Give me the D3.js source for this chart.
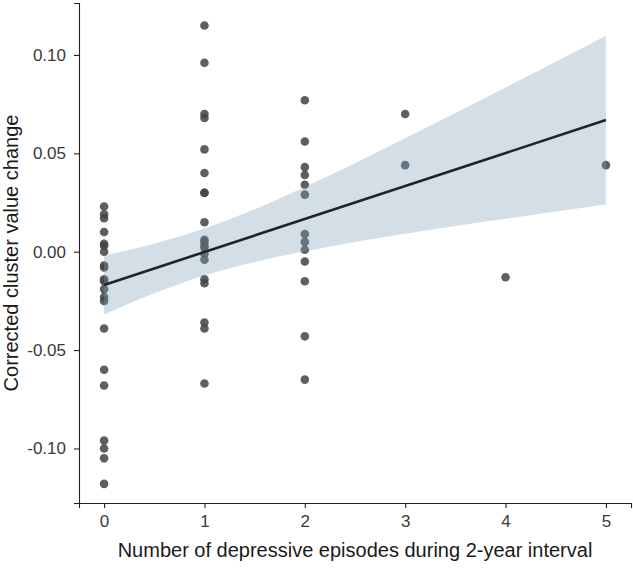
<!DOCTYPE html>
<html>
<head>
<meta charset="utf-8">
<script src="https://cdn.jsdelivr.net/npm/d3@7"></script>
<style>
  body { margin: 0; background: #fff; }
  text { font-family: "Liberation Sans", Arial, sans-serif; }
</style>
</head>
<body>
<div id="chart"></div>
<script>
// corrected cluster value change, grouped by number of episodes
var changeEp0 = [0.023, 0.019, 0.017, 0.010, 0.004, 0.003, 0.000, -0.007, -0.008, -0.014,
    -0.015, -0.019, -0.023, -0.025, -0.039, -0.060, -0.068, -0.096, -0.100, -0.105, -0.118];
var changeEp1 = [0.115, 0.096, 0.070, 0.068, 0.052, 0.040, 0.030, 0.030, 0.015, 0.006,
    0.005, 0.003, 0.002, -0.001, -0.004, -0.014, -0.016, -0.036, -0.039, -0.067];
var changeEp2 = [0.077, 0.056, 0.043, 0.039, 0.034, 0.029, 0.009, 0.005, 0.001, -0.005,
    -0.015, -0.043, -0.065];
var changeEp3 = [0.070, 0.044];
var changeEp4 = [-0.013];
var changeEp5 = [0.044];

// linear fit and its 95% band
var bandX     = [0, 0.5, 1, 1.5, 2, 2.5, 3, 3.5, 4, 4.5, 5];
var bandLower = [-0.0319, -0.0211, -0.0121, -0.0052, 0.0003, 0.0050, 0.0091, 0.0131, 0.0167, 0.0204, 0.0240];
var bandUpper = [-0.0019, 0.0041, 0.0119, 0.0216, 0.0329, 0.0450, 0.0577, 0.0705, 0.0835, 0.0966, 0.1098];
var fitX = [0, 5];
var fitY = [-0.0169, 0.0669];

var xTicks = [0, 1, 2, 3, 4, 5];
var yTicks = [-0.10, -0.05, 0.00, 0.05, 0.10];

var svgWidth = 633, svgHeight = 568;
var margin = {top: 3, right: 2, bottom: 65, left: 79};
var width = svgWidth - margin.left - margin.right;
var height = svgHeight - margin.top - margin.bottom;

var svg = d3.select('#chart').append('svg')
    .attr('width', svgWidth).attr('height', svgHeight);

var g = svg.append('g')
    .attr('transform', 'translate(' + margin.left + ' ' + margin.top + ')');

var x = d3.scaleLinear().domain([-0.25, 5.25]).range([0, width]);
var y = d3.scaleLinear().domain([-0.1277, 0.1264]).range([height, 0]);

// flatten groups into points
var groups = [changeEp0, changeEp1, changeEp2, changeEp3, changeEp4, changeEp5];
var points = [];
groups.forEach(function(vals, i) {
    vals.forEach(function(v) { points.push({ep: i, change: v}); });
});

// points first, band is drawn over them
g.selectAll('circle.pt')
    .data(points)
    .enter().append('circle')
    .attr('class', 'pt')
    .attr('cx', function(d) { return x(d.ep); })
    .attr('cy', function(d) { return y(d.change); })
    .attr('r', 4.3)
    .attr('fill', '#3f4447')
    .attr('fill-opacity', 0.85);

var bandData = bandX.map(function(v, i) {
    return {x: v, lo: bandLower[i], hi: bandUpper[i]};
});

var area = d3.area()
    .x(function(d) { return x(d.x); })
    .y0(function(d) { return y(d.lo); })
    .y1(function(d) { return y(d.hi); })
    .curve(d3.curveMonotoneX);

g.append('path')
    .datum(bandData)
    .attr('fill', '#7e9fb9')
    .attr('fill-opacity', 0.34)
    .attr('d', area);

var line = d3.line()
    .x(function(d) { return x(d[0]); })
    .y(function(d) { return y(d[1]); });

g.append('path')
    .datum(fitX.map(function(v, i) { return [v, fitY[i]]; }))
    .attr('fill', 'none')
    .attr('stroke', '#1f2325')
    .attr('stroke-width', 2.6)
    .attr('d', line);

// axes - plain hyphen for negatives, like the original
var fmtY = d3.format('.2f');

var xAxis = g.append('g')
    .attr('transform', 'translate(0 ' + height + ')')
    .call(d3.axisBottom(x).tickValues(xTicks).tickFormat(d3.format('d'))
        .tickSizeOuter(0).tickSize(5).tickPadding(7));

var yAxis = g.append('g')
    .call(d3.axisLeft(y).tickValues(yTicks)
        .tickFormat(function(d) { return fmtY(d).replace('\u2212', '-'); })
        .tickSizeOuter(0).tickSize(5).tickPadding(8));

[xAxis, yAxis].forEach(function(a) {
    a.select('.domain').attr('stroke', '#222').attr('stroke-width', 1.1);
    a.selectAll('.tick line').attr('stroke', '#222').attr('stroke-width', 1.1);
    a.selectAll('.tick text').attr('fill', '#3a3a3a').style('font-size', '17px');
});

// axis titles
svg.append('text')
    .attr('x', margin.left + x(2.5))
    .attr('y', 557)
    .attr('text-anchor', 'middle')
    .attr('fill', '#1a1a1a')
    .style('font-size', '20px')
    .text('Number of depressive episodes during 2-year interval');

svg.append('text')
    .attr('transform', 'translate(18 ' + (margin.top + height / 2) + ') rotate(-90)')
    .attr('text-anchor', 'middle')
    .attr('fill', '#1a1a1a')
    .style('font-size', '20px')
    .text('Corrected cluster value change');
</script>
</body>
</html>
